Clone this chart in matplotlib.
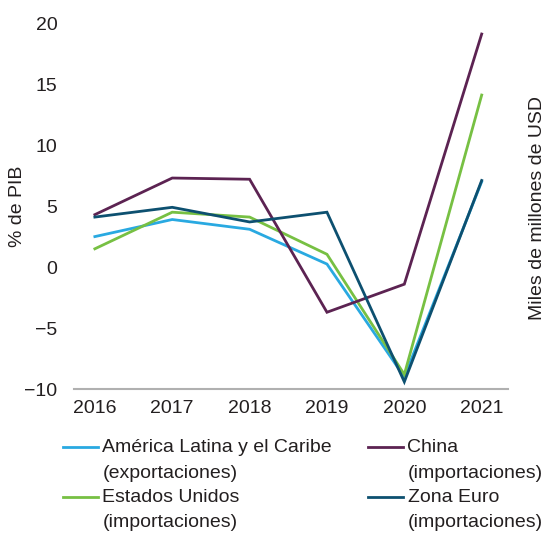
import matplotlib
matplotlib.use("Agg")
import matplotlib.pyplot as plt
from matplotlib.lines import Line2D

years = [2016, 2017, 2018, 2019, 2020, 2021]
america = [2.5, 3.9, 3.1, 0.25, -9.0, 7.0]
china = [4.3, 7.3, 7.2, -3.7, -1.4, 19.1]
eeuu = [1.5, 4.5, 4.1, 1.05, -8.8, 14.1]
euro = [4.1, 4.9, 3.7, 4.5, -9.4, 7.1]

labels = [["América Latina y el Caribe", "(exportaciones)"],
          ["China", "(importaciones)"],
          ["Estados Unidos", "(importaciones)"],
          ["Zona Euro", "(importaciones)"]]
colors = ["#29A9E1", "#5C2352", "#77C043", "#0D5070"]
yticks = [-10, -5, 0, 5, 10, 15, 20]
yticklabels = ["\u221210", "\u22125", "0", "5", "10", "15", "20"]

plt.rcParams['font.family'] = ['Liberation Sans', 'DejaVu Sans']

fig = plt.figure(figsize=(5.48, 5.36), dpi=100)
ax = fig.add_axes([0.135, 0.274, 0.792, 0.683])

series = [america, china, eeuu, euro]
zorders = [2, 3, 2, 4]
for s, c, z in zip(series, colors, zorders):
    ax.plot(years, s, color=c, lw=2.0, zorder=z, solid_joinstyle='miter')

ax.set_xlim(2015.73, 2021.34)
ax.set_ylim(-10, 20)
ax.set_yticks(yticks)
ax.set_yticklabels(yticklabels)
ax.set_xticks(years)
ax.set_xticklabels([str(y) for y in years])
ax.tick_params(axis='both', length=0, labelsize=14, colors='#231F20')
ax.tick_params(axis='y', pad=12)
ax.tick_params(axis='x', pad=8)
for sp in ['top', 'right', 'left']:
    ax.spines[sp].set_visible(False)
ax.spines['bottom'].set_color('#B0B0B0')
ax.spines['bottom'].set_linewidth(1.5)
ax.set_ylabel("% de PIB", fontsize=14, color='#231F20', va='center')
ax.yaxis.set_label_coords(-0.131, 0.5)

fig.text(537 / 548, 1 - 208 / 536, "Miles de millones de USD", rotation=90,
         fontsize=14, color='#231F20', ha='center', va='center')

# manual legend
W, H = 548, 536
pos = [(63, 447), (368, 447), (63, 496.5), (368, 496.5)]
for (x, y), lab, c in zip(pos, labels, colors):
    fig.add_artist(Line2D([x / W, (x + 35) / W], [1 - y / H, 1 - y / H],
                          color=c, lw=2.0, transform=fig.transFigure))
    for i, t in enumerate(lab):
        yy = y + i * 25 + 5.5
        fig.text((x + 39.5) / W, 1 - yy / H, t, fontsize=14, color='#231F20',
                 ha='left', va='baseline')

fig.savefig("out.png", dpi=100, facecolor='white')
